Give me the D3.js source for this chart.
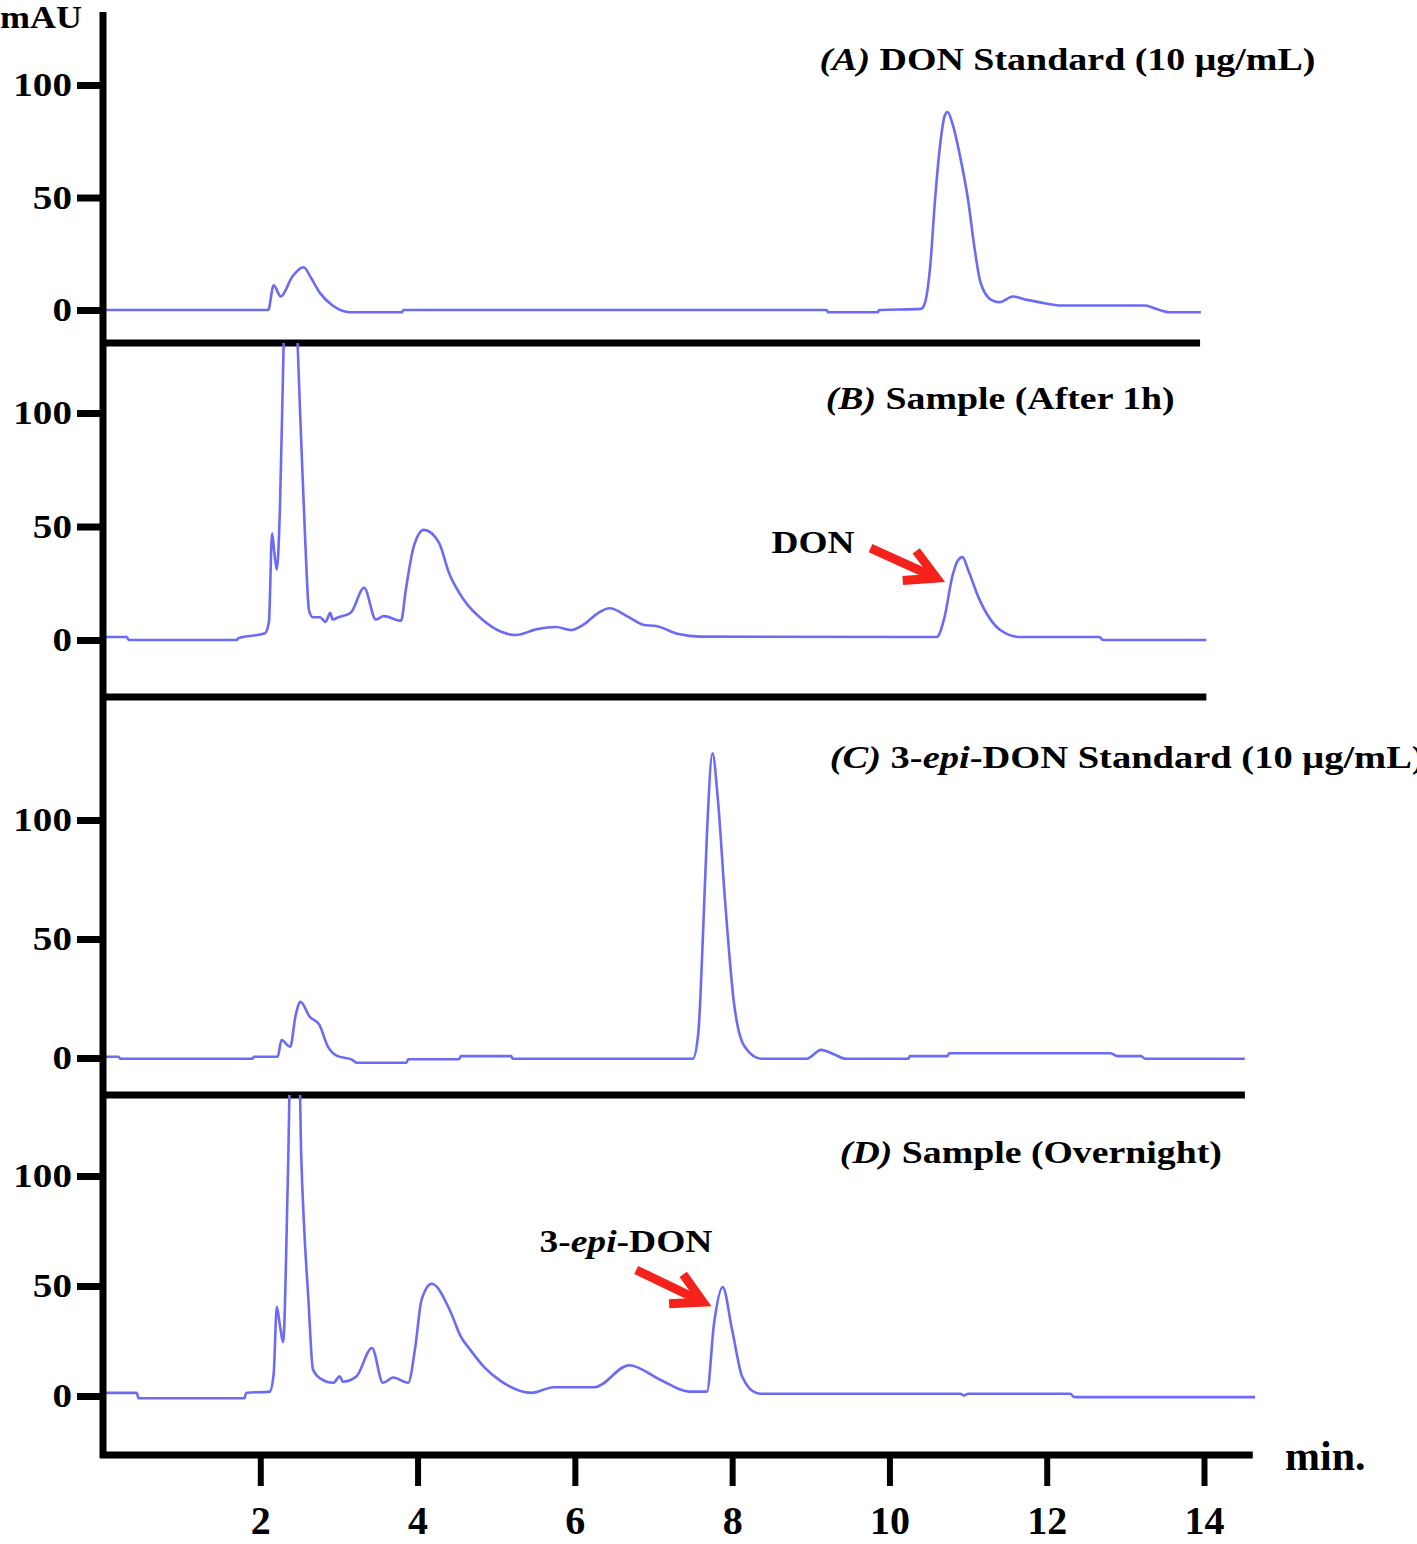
<!DOCTYPE html>
<html lang="en">

<head>
    <meta charset="UTF-8">
    <title>DON / 3-epi-DON chromatograms</title>
</head>

<style>
    body,
    html {
        margin: 0;
        padding: 0;
        background: #fff;
    }

    svg text {
        font-family: "Liberation Serif", "Times New Roman", serif;
        font-weight: bold;
        fill: #000;
    }
</style>

<body>
    <svg id="svg" width="1417" height="1544"></svg>

    <script src="https://d3js.org/d3.v7.min.js"></script>
    <script>
        // ---- data: [time (min), absorbance (mAU)] ----
        const traceA = [
            [0, 0], [2.1, 0], [2.17, 11], [2.26, 6], [2.41, 15], [2.55, 19], [2.65, 14], [2.76, 7.5],
            [2.92, 2], [3.14, -1], [3.8, -1], [3.82, 0], [9.2, 0], [9.22, -1], [9.85, -1], [9.87, 0],
            [10.4, 0.5], [10.45, 3], [10.52, 20], [10.58, 49], [10.65, 75], [10.7, 86], [10.74, 88],
            [10.8, 83], [10.9, 68], [11.0, 49], [11.08, 28], [11.16, 12], [11.3, 4.4], [11.4, 3.5],
            [11.57, 6], [11.75, 4.5], [11.9, 3.5], [12.2, 2], [13.25, 2], [13.35, 1], [13.57, -1], [13.96, -1]
        ];
        const traceB = [
            [0, 1.3], [0.3, 1.3], [0.33, 0], [1.7, 0], [1.72, 0.8], [2.06, 3], [2.11, 8], [2.15, 47],
            [2.18, 38], [2.21, 31], [2.25, 58], [2.3, 135], [2.36, 200], [2.42, 200], [2.47, 135],
            [2.52, 88], [2.57, 45], [2.62, 13], [2.67, 10], [2.76, 10], [2.83, 8], [2.89, 12], [2.92, 9],
            [2.99, 10], [3.15, 12], [3.32, 23], [3.47, 9], [3.57, 10.5], [3.79, 8.5], [3.85, 22],
            [3.95, 41], [4.08, 48.5], [4.27, 43], [4.4, 29.5], [4.59, 17.6], [4.83, 8.8], [5.07, 3.5],
            [5.25, 2.2], [5.52, 4.8], [5.76, 5.7], [5.95, 4.4], [6.1, 6.6], [6.3, 12], [6.44, 14],
            [6.69, 10], [6.88, 6.6], [7.03, 6.2], [7.32, 2.6], [7.59, 1.5], [10.6, 1.3], [10.7, 10],
            [10.8, 28], [10.87, 35], [10.93, 36.5], [11.0, 31], [11.13, 19], [11.41, 4.4], [11.66, 1.3],
            [12.67, 1.3], [12.72, 0], [14.03, 0]
        ];
        const traceC = [
            [0, 0.5], [0.2, 0.5], [0.22, -0.3], [1.9, -0.3], [1.92, 0.5], [2.22, 0.5], [2.27, 7.5],
            [2.38, 4.7], [2.45, 18], [2.51, 23.6], [2.63, 17.3], [2.75, 14], [2.86, 4.8], [2.97, 1],
            [3.17, -0.8], [3.23, -2], [3.86, -2], [3.88, -0.5], [4.53, -0.5], [4.55, 0.8], [5.19, 0.8],
            [5.21, -0.3], [7.5, -0.3], [7.57, 10.5], [7.63, 52.5], [7.68, 94.5], [7.75, 128], [7.82, 108],
            [7.91, 66], [8.02, 24], [8.16, 4.7], [8.37, -0.3], [8.95, -0.3], [9.13, 3.4], [9.3, 1.5],
            [9.44, -0.3], [10.24, -0.3], [10.26, 0.8], [10.74, 0.8], [10.76, 2], [12.81, 2], [12.9, 0.8],
            [13.2, 0.8], [13.25, -0.3], [14.52, -0.3]
        ];
        const traceD = [
            [0, 1.4], [0.43, 1.4], [0.45, -1], [1.8, -1], [1.82, 1.4], [2.12, 2], [2.17, 10], [2.21, 40.5],
            [2.25, 32], [2.29, 24.5], [2.35, 98], [2.4, 180], [2.48, 180], [2.52, 110], [2.56, 75],
            [2.61, 45], [2.67, 12], [2.76, 8], [2.93, 6], [3.01, 9], [3.05, 6.5], [3.22, 8.8], [3.42, 21.8],
            [3.56, 6], [3.69, 8.4], [3.88, 6], [3.97, 22], [4.05, 43.6], [4.18, 51], [4.41, 39], [4.55, 27],
            [4.67, 21], [4.85, 13], [5.05, 7], [5.45, 1.4], [5.73, 4], [6.25, 4], [6.69, 14], [7.09, 7.3],
            [7.45, 2], [7.68, 2], [7.77, 33], [7.88, 49.5], [8.0, 30], [8.13, 8.6], [8.31, 1.4], [8.4, 1],
            [10.9, 1], [10.95, 0.3], [11.0, 1], [12.3, 1], [12.35, -0.5], [14.65, -0.5]
        ];

        // panel titles: [text, italic?]
        const titleA = [["(A)", true], [" DON Standard (10 μg/mL)", false]];
        const titleB = [["(B)", true], [" Sample (After 1h)", false]];
        const titleC = [["(C)", true], [" 3-", false], ["epi", true], ["-DON Standard (10 μg/mL)", false]];
        const titleD = [["(D)", true], [" Sample (Overnight)", false]];

        const yTicks = [0, 50, 100];
        const xTicks = [2, 4, 6, 8, 10, 12, 14];

        // peak annotations: panel index, label, arrow tail and tip in data units
        const annotations = [
            { panel: 1, label: [["DON", false]], at: [8.5, 38.3], from: [9.76, 40.5], to: [10.6, 27.3], len: 83 },
            { panel: 3, label: [["3-", false], ["epi", true], ["-DON", false]], at: [5.55, 65.5], from: [6.78, 57.3], to: [7.63, 42.7], len: 173 }
        ];

        // ---- layout (pixels) ----
        const left = 103;
        const layout = [
            { trace: traceA, title: titleA, top: 12, bottom: 343, zero: 310, hundred: 85, end: 13.95, tt: 9.11, tv: 106.7, tlen: 496 },
            { trace: traceB, title: titleB, top: 343, bottom: 697, zero: 640, hundred: 413, end: 14.03, tt: 9.19, tv: 101.8, tlen: 349 },
            { trace: traceC, title: titleC, top: 697, bottom: 1095, zero: 1058, hundred: 820, end: 14.52, tt: 9.24, tv: 122, tlen: 595 },
            { trace: traceD, title: titleD, top: 1095, bottom: 1455, zero: 1396, hundred: 1176, end: 14.62, tt: 9.37, tv: 106, tlen: 382 }
        ];

        const svg = d3.select('#svg');
        const xscale = d3.scaleLinear().domain([0, 14]).range([left, 1204]);

        function addSegments(textSel, segs) {
            segs.forEach(([s, it]) => {
                textSel.append('tspan').style('font-style', it ? 'italic' : 'normal').text(s);
            });
        }

        const yscales = [];

        layout.forEach((p, i) => {
            const yscale = d3.scaleLinear().domain([0, 100]).range([p.zero, p.hundred]);
            yscales.push(yscale);

            svg.append('clipPath').attr('id', 'clip' + i)
                .append('rect')
                .attr('x', left).attr('y', p.top)
                .attr('width', 1417 - left).attr('height', p.bottom - p.top);

            const line = d3.line()
                .x(d => xscale(d[0]))
                .y(d => yscale(d[1]))
                .curve(d3.curveMonotoneX);

            svg.append('path')
                .datum(p.trace)
                .attr('clip-path', `url(#clip${i})`)
                .attr('fill', 'none')
                .attr('stroke', '#6b6bf6')
                .attr('stroke-width', 2.6)
                .attr('stroke-linejoin', 'round')
                .attr('d', line);

            // y ticks
            const leftAxis = d3.axisLeft(yscale).tickValues(yTicks).tickSize(26).tickPadding(1);
            const ga = svg.append('g')
                .attr('transform', `translate(${left}, 0)`)
                .call(leftAxis);
            ga.select('.domain').remove();
            ga.selectAll('line').attr('stroke', '#000').attr('stroke-width', 7);
            ga.selectAll('text')
                .attr('font-size', 34)
                .attr('transform', 'scale(1.15,1)')
                .style('font-family', '"Liberation Serif", "Times New Roman", serif')
                .style('font-weight', 'bold');

            // bottom border of the panel
            svg.append('line')
                .attr('x1', left - 3).attr('x2', xscale(p.end))
                .attr('y1', p.bottom).attr('y2', p.bottom)
                .attr('stroke', '#000').attr('stroke-width', 7);

            // title
            const t = svg.append('text')
                .attr('x', xscale(p.tt))
                .attr('y', yscale(p.tv))
                .attr('font-size', 31)
                .attr('textLength', p.tlen)
                .attr('lengthAdjust', 'spacingAndGlyphs');
            addSegments(t, p.title);
        });

        // continuous y axis line
        svg.append('line')
            .attr('x1', left).attr('x2', left)
            .attr('y1', 12).attr('y2', 1458)
            .attr('stroke', '#000').attr('stroke-width', 7);

        // x axis ticks
        const bottomAxis = d3.axisBottom(xscale).tickValues(xTicks).tickSize(28).tickPadding(20);
        const gx = svg.append('g')
            .attr('transform', `translate(0, ${layout[3].bottom + 3})`)
            .call(bottomAxis);
        gx.select('.domain').remove();
        gx.selectAll('line').attr('stroke', '#000').attr('stroke-width', 6);
        gx.selectAll('text')
            .attr('font-size', 40)
            .style('font-family', '"Liberation Serif", "Times New Roman", serif')
            .style('font-weight', 'bold');

        svg.append('text')
            .attr('x', 1285).attr('y', 1470)
            .attr('font-size', 42)
            .text('min.');

        svg.append('text')
            .attr('x', 0).attr('y', 28)
            .attr('font-size', 32)
            .attr('textLength', 82)
            .attr('lengthAdjust', 'spacingAndGlyphs')
            .text('mAU');

        // annotations with red arrows
        annotations.forEach(a => {
            const ys = yscales[a.panel];
            const lab = svg.append('text')
                .attr('x', xscale(a.at[0]))
                .attr('y', ys(a.at[1]))
                .attr('font-size', 32)
                .attr('textLength', a.len)
                .attr('lengthAdjust', 'spacingAndGlyphs');
            addSegments(lab, a.label);

            const x0 = xscale(a.from[0]), y0 = ys(a.from[1]);
            const x1 = xscale(a.to[0]), y1 = ys(a.to[1]);
            const ang = Math.atan2(y1 - y0, x1 - x0);
            const hl = 34, spread = 0.5;
            const w1 = [x1 - hl * Math.cos(ang - spread), y1 - hl * Math.sin(ang - spread)];
            const w2 = [x1 - hl * Math.cos(ang + spread), y1 - hl * Math.sin(ang + spread)];

            svg.append('line')
                .attr('x1', x0).attr('y1', y0)
                .attr('x2', x1 - 6 * Math.cos(ang)).attr('y2', y1 - 6 * Math.sin(ang))
                .attr('stroke', '#f5221b').attr('stroke-width', 9);
            svg.append('path')
                .attr('d', d3.line()([w1, [x1, y1], w2]))
                .attr('fill', 'none')
                .attr('stroke', '#f5221b').attr('stroke-width', 9)
                .attr('stroke-linejoin', 'miter');
        });
    </script>
</body>

</html>
